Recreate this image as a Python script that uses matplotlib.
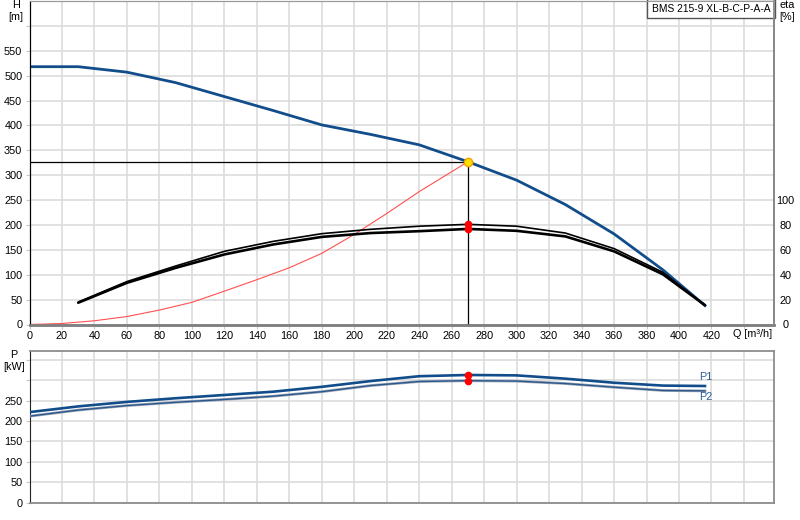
import numpy as np
import matplotlib.pyplot as plt
from matplotlib.transforms import blended_transform_factory

plt.rcParams['font.family'] = ['Liberation Sans', 'DejaVu Sans']

# --- dados ---
q_h = [0, 30, 60, 90, 120, 150, 180, 210, 240, 270, 300, 330, 360, 390, 416]
h_m = [518, 518, 507, 486, 458, 430, 401, 382, 361, 327, 290, 241, 182, 110, 38]

q_eta = [30, 60, 90, 120, 150, 180, 210, 240, 270, 300, 330, 360, 390, 416]
eta_1 = [18, 34.5, 47, 58.8, 66.8, 73, 76.5, 79, 80.5, 79, 73.5, 61, 42, 15.5]
eta_2 = [17.5, 33.5, 45.5, 56.3, 64.3, 70.4, 73.5, 75, 76.8, 75.3, 70.8, 58.8, 40.4, 15.5]

q_sys = [0, 20, 40, 60, 80, 100, 120, 140, 160, 180, 200, 220, 240, 270]
h_sys = [0, 2, 7.5, 16, 29, 44.5, 67, 90, 114, 143, 181, 223, 267, 327]

q_p = [0, 30, 60, 90, 120, 150, 180, 210, 240, 270, 300, 330, 360, 390, 416]
p1 = [222, 236, 247, 256, 264, 272, 284, 298, 310, 313, 312, 304, 294, 287, 286]
p2 = [212, 227, 238, 246, 253, 261, 272, 287, 297, 299, 298, 292, 283, 275, 274]

q_op = 270
h_op = 327
eta_op = [80.5, 76.8]
p_op = [313, 299]

pump_name = 'BMS 215-9 XL-B-C-P-A-A'

azul = '#124d8b'
cinza_grid = '#dcdcdc'
fs = 7.8

fig = plt.figure(figsize=(8, 5.2), dpi=100)
W, H = 800, 520
x0, x1 = 29.5, 774
ax = fig.add_axes([x0 / W, 1 - 324.5 / H, (x1 - x0) / W, (324.5 - 1) / H])
axp = fig.add_axes([x0 / W, 1 - 502.7 / H, (x1 - x0) / W, (502.7 - 350.7) / H])
ax_eta = ax.twinx()

xmax = 458.5
xt = np.arange(0, 441, 20)

# --- curva H / eta ---
ax.set_xlim(0, xmax)
ax.set_ylim(0, 650)
ax.set_xticks(xt)
ax.set_xticklabels([str(v) if v <= 420 else '' for v in xt])
yt = np.arange(0, 601, 50)
ax.set_yticks(yt)
ax.set_yticklabels([str(v) if v <= 550 else '' for v in yt])
ax.grid(True, color=cinza_grid, lw=1.2)
ax.set_axisbelow(True)

ax_eta.set_ylim(0, 260)
ax_eta.set_yticks(np.arange(0, 101, 20))
ax_eta.tick_params(axis='y', length=0, pad=8.2, labelsize=fs)
plt.setp(ax_eta.get_yticklabels(), ha='center')

ax.plot(q_sys, h_sys, color='#ff5050', lw=0.8, zorder=3)
ax_eta.plot(q_eta, eta_2, color='black', lw=1.9, solid_capstyle='round', zorder=3)
ax_eta.plot(q_eta, eta_1, color='black', lw=1.2, solid_capstyle='round', zorder=3)
ax.plot(q_h, h_m, color=azul, lw=2.0, zorder=4)

ax.plot([0, q_op], [h_op, h_op], color='black', lw=0.9, zorder=4)
ax.plot([q_op, q_op], [0, h_op], color='black', lw=0.9, zorder=4)
ax_eta.plot([q_op] * 2, eta_op, 'o', color='red', ms=4.5, zorder=5)
ax.plot(q_op, h_op, 'o', mfc='#ffe000', mec='#f5a000', ms=6, mew=1, zorder=6)

for a in (ax, ax_eta):
    a.spines['top'].set_color('#999999')
    a.spines['right'].set_color('#888888')
    a.spines['right'].set_linewidth(1.3)
    a.spines['left'].set_color('black')
    a.spines['bottom'].set_color('#808080')
    a.spines['bottom'].set_linewidth(1.8)
ax.tick_params(axis='both', length=3, color='#c8c8c8', labelsize=fs)
ax.tick_params(axis='x', pad=1.5)
ax.tick_params(axis='y', pad=2.2)

fig.text(16 / W, 1 - 0 / H, 'H\n[m]', fontsize=fs, ha='center', va='top')
fig.text(779 / W, 1 - 0 / H, 'eta\n[%]', fontsize=fs, ha='left', va='top')
trx = blended_transform_factory(ax.transData, ax.transAxes)
ax.text(433, -9.5 / 323.5, 'Q [m³/h]', transform=trx, fontsize=fs, ha='left', va='center')
ax.text(0.9955, 0.992, pump_name, transform=ax.transAxes, fontsize=7.4,
        ha='right', va='top',
        bbox=dict(boxstyle='square,pad=0.45', fc='white', ec='#555555', lw=1))

# --- potência P ---
axp.set_xlim(0, xmax)
axp.set_ylim(0, 372.5)
axp.set_xticks(xt)
axp.set_xticklabels([])
pt = np.arange(0, 351, 50)
axp.set_yticks(pt)
axp.set_yticklabels([str(v) if v <= 250 else '' for v in pt])
axp.grid(True, color=cinza_grid, lw=1.2)
axp.set_axisbelow(True)
axp.tick_params(axis='both', length=3, color='#c8c8c8', labelsize=fs)
axp.tick_params(axis='y', pad=2.2)
axp.tick_params(axis='x', length=0)
for s in ('top', 'right', 'bottom'):
    axp.spines[s].set_color('#8c8c8c')
    axp.spines[s].set_linewidth(1.3)
axp.spines['left'].set_color('#222222')

axp.plot(q_p, p2, color='#a0a8b4', lw=2.0, zorder=3)
axp.plot(q_p, p2, color='#2a5890', lw=1.0, zorder=3)
axp.plot(q_p, p1, color=azul, lw=1.9, zorder=4)
axp.plot([q_op] * 2, p_op, 'o', color='red', ms=4.5, zorder=5)
axp.text(412.4, 309, 'P1', fontsize=fs, color='#2f5f99', ha='left', va='center')
axp.text(412.4, 260, 'P2', fontsize=fs, color='#2f5f99', ha='left', va='center')
fig.text(13.7 / W, 1 - 350 / H, 'P\n[kW]', fontsize=fs, ha='center', va='top')

fig.savefig('out.png', dpi=100)
